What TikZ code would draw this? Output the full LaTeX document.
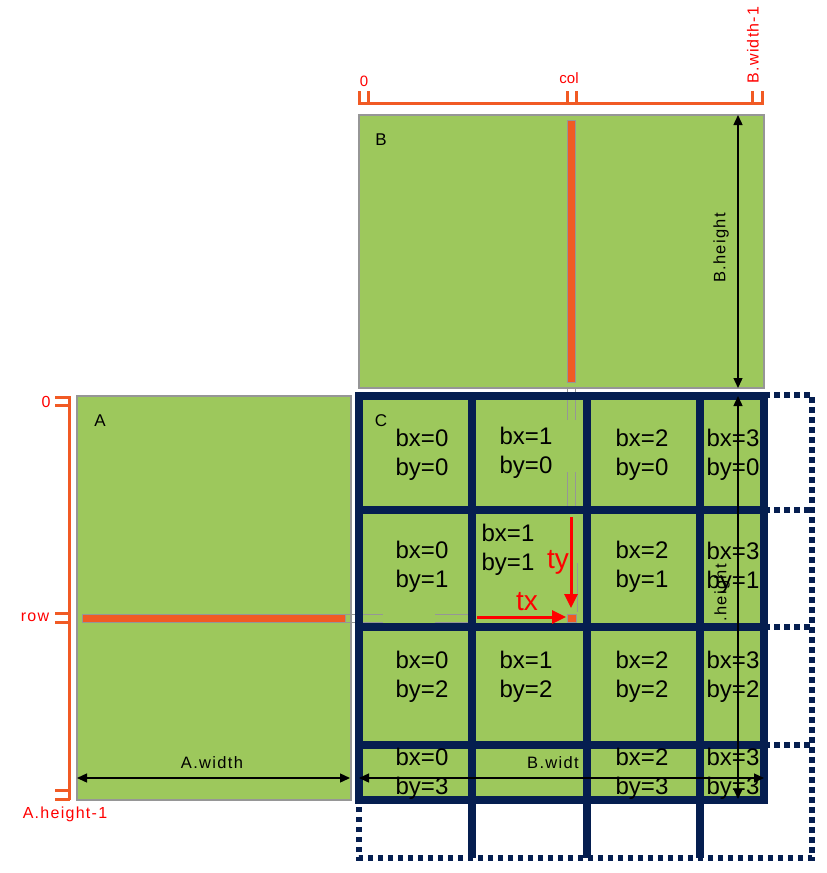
\documentclass[tikz,border=0pt]{standalone}
\usepackage{fontspec}
\setmainfont{Liberation Sans}
\usetikzlibrary{arrows.meta}
\definecolor{mgreen}{RGB}{157,200,92}
\definecolor{morange}{RGB}{241,90,36}
\definecolor{mnavy}{RGB}{5,30,80}
\definecolor{mred}{RGB}{255,0,0}
\definecolor{mgray}{RGB}{150,150,150}
\tikzset{
  matbox/.style={fill=mgreen, draw=mgray, line width=1.2pt},
  stripe/.style={fill=morange, draw=mgray, line width=1pt},
  guide/.style={draw=mgray, line width=1pt},
  ruler/.style={draw=morange, line width=3pt},
  navygrid/.style={draw=mnavy, line width=7.5pt},
  dotgrid/.style={draw=mnavy, line width=5.5pt, dash pattern=on 5.5pt off 4.5pt},
  dimarrow/.style={draw=black, line width=1.4pt, {Triangle[length=10pt,width=9pt]}-{Triangle[length=10pt,width=9pt]}},
  tharrow/.style={draw=mred, line width=3pt, -{Triangle[length=14pt,width=13pt]}},
  blk/.style={font=\fontsize{24}{29}\selectfont, align=center, inner sep=0pt},
  redlbl/.style={text=mred, font=\fontsize{16}{18}\selectfont\addfontfeature{LetterSpace=8}, inner sep=0pt},
  toplbl/.style={text=mred, font=\fontsize{15}{18}\selectfont, inner sep=0pt},
  mlbl/.style={font=\fontsize{16.5}{18}\selectfont\addfontfeature{LetterSpace=8}, inner sep=0pt},
  letterlbl/.style={font=\fontsize{17}{18}\selectfont, inner sep=0pt},
  thlbl/.style={text=mred, font=\fontsize{28}{30}\selectfont, inner sep=0pt},
}
\begin{document}
\begin{tikzpicture}[x=1pt,y=-1pt]
\useasboundingbox (0,0) rectangle (827,873);
% matrices
\path[matbox] (359,115) rectangle (764,388);
\path[matbox] (77,396) rectangle (351,800);
\fill[mgreen] (359,396) rectangle (764,800);
% stripes
\path[stripe] (567,120) rectangle (575,382);
\path[stripe] (82,614) rectangle (345,622);
\path[stripe] (567,614) rectangle (576,622);
% guides
\draw[guide] (567,388) -- (567,420) (575,388) -- (575,420);
\draw[guide] (567,472) -- (567,510) (575,472) -- (575,510);
\draw[guide] (577,563) -- (577,612);
\draw[guide] (527,623) -- (566,623);
\draw[guide] (345,614) -- (383,614) (345,622) -- (383,622);
\draw[guide] (435,614) -- (472,614) (435,622) -- (472,622);
% dotted tiles outside C
\draw[dotgrid] (764,395) -- (812,395) -- (812,858) -- (359,858) -- (359,800);
\draw[dotgrid] (764,510) -- (812,510);
\draw[dotgrid] (764,627) -- (812,627);
\draw[dotgrid] (764,745) -- (812,745);
% navy grid
\draw[navygrid] (359,396) rectangle (764,800);
\draw[navygrid] (472,396) -- (472,858);
\draw[navygrid] (587,396) -- (587,858);
\draw[navygrid] (700,396) -- (700,858);
\draw[navygrid] (359,510) -- (764,510);
\draw[navygrid] (359,627) -- (764,627);
\draw[navygrid] (359,745) -- (764,745);
% rulers
\draw[ruler] (359,103) -- (764,103);
\draw[ruler] (359,91) -- (359,104.5) (368,91) -- (368,103);
\draw[ruler] (567,91) -- (567,103) (576,91) -- (576,103);
\draw[ruler] (752,91) -- (752,103) (762,91) -- (762,104.5);
\draw[ruler] (69,396) -- (69,800);
\draw[ruler] (55,397) -- (70,397) (55,405) -- (70,405);
\draw[ruler] (55,613) -- (70,613) (55,622) -- (70,622);
\draw[ruler] (55,790) -- (70,790) (55,799) -- (70,799);
% labels
\node[toplbl] (l0top) at (364,81) {0};
\node[toplbl] (lcol) at (569,78) {col};
\node[redlbl, rotate=90] (lbw1) at (753,45) {B.width-1};
\node[redlbl] (l0left) at (46,402) {0};
\node[redlbl] (lrow) at (35,617) {row};
\node[redlbl] (lah1) at (65,814) {A.height-1};
\node[letterlbl] (lA) at (100,421) {A};
\node[letterlbl] (lB) at (381,140) {B};
\node[letterlbl] (lC) at (381,421) {C};
% block labels
\node[blk] (b00) at (422,455) {bx=0\\by=0};
\node[blk] (b10) at (526,453) {bx=1\\by=0};
\node[blk] (b20) at (642,455) {bx=2\\by=0};
\node[blk] (b30) at (733,455) {bx=3\\by=0};
\node[blk] (b01) at (422,567) {bx=0\\by=1};
\node[blk] (b11) at (508,550) {bx=1\\by=1};
\node[blk] (b21) at (642,567) {bx=2\\by=1};
\node[blk] (b31) at (733,568) {bx=3\\by=1};
\node[blk] (b02) at (422,677) {bx=0\\by=2};
\node[blk] (b12) at (526,677) {bx=1\\by=2};
\node[blk] (b22) at (642,677) {bx=2\\by=2};
\node[blk] (b32) at (733,677) {bx=3\\by=2};
\node[blk] (b03) at (422,774) {bx=0\\by=3};
\node[blk] (b23) at (642,774) {bx=2\\by=3};
\node[blk] (b33) at (733,774) {bx=3\\by=3};
% dimension arrows
\coordinate (awL) at (77,778);
\coordinate (awR) at (350,778);
\coordinate (bwL) at (359,778);
\coordinate (bwR) at (764,778);
\coordinate (bhT) at (738,115);
\coordinate (bhB) at (738,388);
\coordinate (chT) at (738,396);
\coordinate (chB) at (738,799);
\draw[dimarrow] (awL) -- (awR);
\draw[dimarrow] (bwL) -- (bwR);
\draw[dimarrow] (bhT) -- (bhB);
\draw[dimarrow] (chT) -- (chB);
\node[mlbl] (law) at (212,763) {A.width};
\node[mlbl] (lbw) at (553,763) {B.widt};
\node[mlbl, rotate=90] (lbh) at (721,248) {B.height};
\node[mlbl, rotate=90] (lch) at (722,593) {.height};
% thread arrows
\coordinate (txS) at (477,617);
\coordinate (txE) at (566,617);
\coordinate (tyS) at (571,517);
\coordinate (tyE) at (571,608);
\draw[tharrow] (txS) -- (txE);
\draw[tharrow] (tyS) -- (tyE);
\node[thlbl] (ltx) at (527,602) {tx};
\node[thlbl] (lty) at (558,562) {ty};
\end{tikzpicture}
\end{document}
